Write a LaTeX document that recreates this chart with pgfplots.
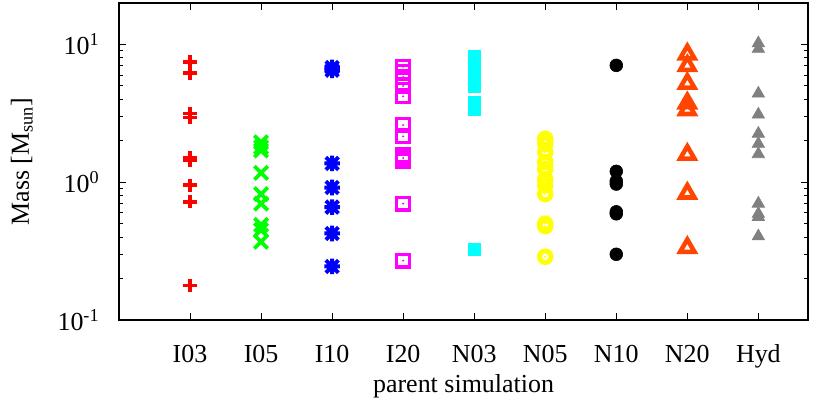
\documentclass[12pt,border=0pt]{standalone}
\usepackage{fontspec}
\setmainfont{Liberation Serif}
\usepackage{pgfplots}
\pgfplotsset{compat=1.18}

% gnuplot-like point types
\pgfdeclareplotmark{gpstar}{%
  \pgfpathmoveto{\pgfqpoint{-\pgfplotmarksize}{0pt}}\pgfpathlineto{\pgfqpoint{\pgfplotmarksize}{0pt}}%
  \pgfpathmoveto{\pgfqpoint{0pt}{-\pgfplotmarksize}}\pgfpathlineto{\pgfqpoint{0pt}{\pgfplotmarksize}}%
  \pgfpathmoveto{\pgfqpoint{-.8\pgfplotmarksize}{-.8\pgfplotmarksize}}\pgfpathlineto{\pgfqpoint{.8\pgfplotmarksize}{.8\pgfplotmarksize}}%
  \pgfpathmoveto{\pgfqpoint{-.8\pgfplotmarksize}{.8\pgfplotmarksize}}\pgfpathlineto{\pgfqpoint{.8\pgfplotmarksize}{-.8\pgfplotmarksize}}%
  \pgfusepathqstroke}
\pgfdeclareplotmark{sqdot}{%
  \pgfpathrectangle{\pgfqpoint{-\pgfplotmarksize}{-\pgfplotmarksize}}{\pgfqpoint{2\pgfplotmarksize}{2\pgfplotmarksize}}%
  \pgfusepathqstroke
  \pgfpathcircle{\pgfpointorigin}{0.55pt}\pgfusepathqfill}
\pgfdeclareplotmark{circdot}{%
  \pgfpathcircle{\pgfpointorigin}{\pgfplotmarksize}\pgfusepathqstroke
  \pgfpathcircle{\pgfpointorigin}{0.5pt}\pgfusepathqfill}
\pgfdeclareplotmark{tridot}{%
  \pgfpathmoveto{\pgfqpointpolar{90}{\pgfplotmarksize}}%
  \pgfpathlineto{\pgfqpointpolar{210}{\pgfplotmarksize}}%
  \pgfpathlineto{\pgfqpointpolar{330}{\pgfplotmarksize}}%
  \pgfpathclose\pgfusepathqstroke
  \pgfpathcircle{\pgfpointorigin}{0.35pt}\pgfusepathqfill}
\pgfdeclareplotmark{trifill}{%
  \pgfpathmoveto{\pgfqpointpolar{90}{\pgfplotmarksize}}%
  \pgfpathlineto{\pgfqpointpolar{210}{\pgfplotmarksize}}%
  \pgfpathlineto{\pgfqpointpolar{330}{\pgfplotmarksize}}%
  \pgfpathclose\pgfusepathqfillstroke}

\definecolor{gpred}{HTML}{FF0000}
\definecolor{gpgreen}{HTML}{00FF00}
\definecolor{gpblue}{HTML}{0000FF}
\definecolor{gpmagenta}{HTML}{FF00FF}
\definecolor{gpcyan}{HTML}{00FFFF}
\definecolor{gpyellow}{HTML}{FFFF00}
\definecolor{gporange}{HTML}{FF4500}
\definecolor{gpgray}{HTML}{808080}

\begin{document}
\fontsize{12.6}{15}\selectfont
\begin{tikzpicture}
\begin{axis}[
    scale only axis,
    width=334.5pt, height=153.9pt,
    ymode=log,
    xmin=0, xmax=9.7,
    ymin=0.1, ymax=20,
    xtick={1,2,3,4,5,6,7,8,9},
    xticklabels={I03,I05,I10,I20,N03,N05,N10,N20,Hyd},
    ytick={0.1,1,10},
    yticklabels={10\textsuperscript{-1},10\textsuperscript{0},10\textsuperscript{1}},
    minor ytick={0.2,0.3,0.4,0.5,0.6,0.7,0.8,0.9,2,3,4,5,6,7,8,9,20},
    tick align=inside,
    major tick length=3.4pt, minor tick length=2pt,
    tick style={black, line width=0.5pt},
    axis line style={line width=0.6pt},
    xticklabel style={anchor=base, yshift=-20.8pt},
    yticklabel style={anchor=east, xshift=-5pt},
    xlabel={parent simulation},
    ylabel={Mass [M\textsubscript{sun}]},
    xlabel style={at={(axis description cs:0.5,-0.228)}, anchor=base},
    ylabel style={at={(axis description cs:-0.141,0.5)}, anchor=center},
    clip=false,
]
% I03
\addplot[only marks, mark=+, mark size=3.2pt, gpred, line width=1.8pt] coordinates {
(1,7.5) (1,6.2) (1,3.15) (1,2.95) (1,1.5) (1,1.45) (1,0.95) (1,0.72) (1,0.178)};
% I05
\addplot[only marks, mark=x, mark size=4.6pt, gpgreen, line width=1.8pt] coordinates {
(2,1.95) (2,1.8) (2,1.7) (2,1.17) (2,0.82) (2,0.70) (2,0.49) (2,0.45) (2,0.37)};
% I10
\addplot[only marks, mark=gpstar, mark size=3.8pt, gpblue, line width=1.9pt] coordinates {
(3,6.8) (3,6.5) (3,1.37) (3,0.915) (3,0.66) (3,0.425) (3,0.245)};
% I20
\addplot[only marks, mark=sqdot, mark size=3.1pt, gpmagenta, mark options={fill=gpmagenta}, line width=1.6pt] coordinates {
(4,6.9) (4,6.3) (4,5.8) (4,5.0) (4,4.2) (4,2.6) (4,2.15) (4,1.58) (4,1.5) (4,1.43) (4,0.70) (4,0.27)};
% N03
\addplot[only marks, mark=square*, mark size=3.0pt, gpcyan, mark options={fill=gpcyan}, line width=0.4pt] coordinates {
(5,8.1) (5,7.2) (5,6.3) (5,5.6) (5,5.0) (5,3.8) (5,3.4) (5,0.327)};
% N05
\addplot[only marks, mark=circdot, mark size=2.8pt, gpyellow, mark options={fill=gpyellow}, line width=2.4pt] coordinates {
(6,2.07) (6,1.9) (6,1.65) (6,1.4) (6,1.25) (6,1.05) (6,0.95) (6,0.82) (6,0.5) (6,0.48) (6,0.288)};
% N10
\addplot[only marks, mark=*, mark size=3.1pt, black, mark options={fill=black}, line width=0.3pt] coordinates {
(7,7.05) (7,1.2) (7,1.02) (7,0.97) (7,0.61) (7,0.59) (7,0.30)};
% N20
\addplot[only marks, mark=tridot, mark size=4.0pt, gporange, mark options={fill=white}, line width=2.2pt] coordinates {
(8,8.5) (8,7.0) (8,5.2) (8,3.75) (8,3.35) (8,1.59) (8,0.83) (8,0.335)};
% Hyd
\addplot[only marks, mark=trifill, mark size=3.5pt, gpgray, mark options={fill=gpgray}, line width=0.3pt] coordinates {
(9,10.2) (9,9.3) (9,4.4) (9,3.1) (9,2.25) (9,1.9) (9,1.6) (9,0.70) (9,0.59) (9,0.56) (9,0.405)};
\end{axis}
\pgfresetboundingbox
\path[use as bounding box] (current axis.south west) ++(-57.77pt,-41.75pt) rectangle ++(402.9pt,197.1pt);
\end{tikzpicture}
\end{document}
